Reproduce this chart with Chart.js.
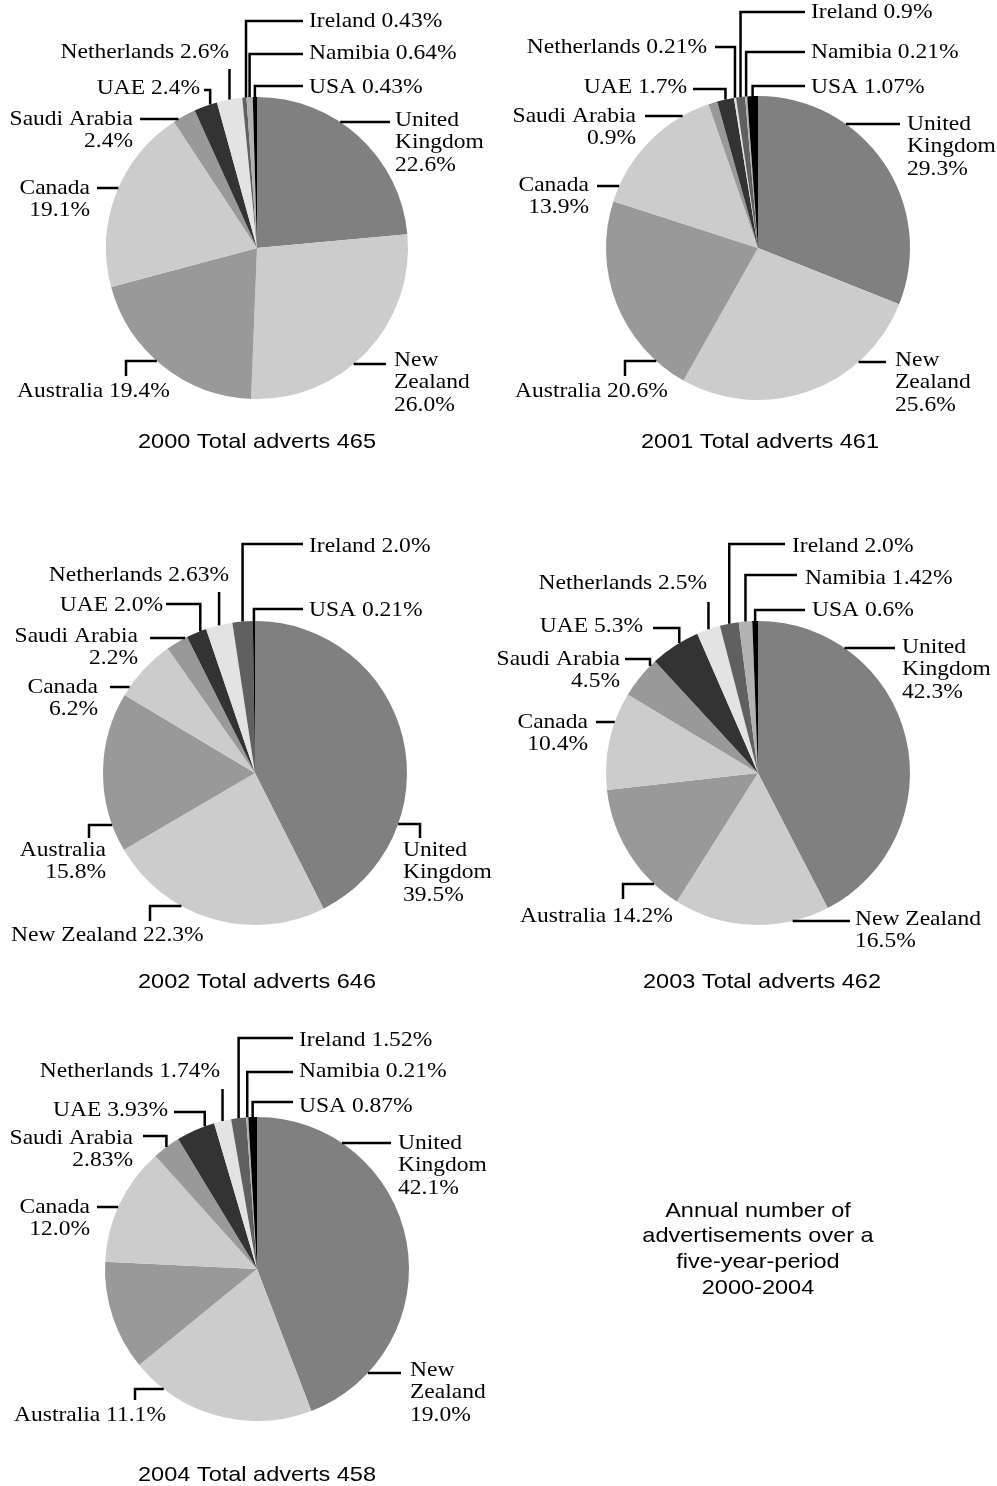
<!DOCTYPE html>
<html>
<head>
<meta charset="utf-8">
<script src="https://cdn.jsdelivr.net/npm/chart.js"></script>
<style>
  body { margin: 0; background: #fff; }
  #page { position: relative; width: 997px; height: 1486px; }
  canvas { position: absolute; }
</style>
</head>
<body>
<div id="page"></div>
<script>
const categories = ['United Kingdom', 'New Zealand', 'Australia', 'Canada', 'Saudi Arabia',
  'UAE', 'Netherlands', 'Ireland', 'Namibia', 'USA'];

// percentages as printed on the labels
const values2000 = ['22.6', '26.0', '19.4', '19.1', '2.4', '2.4', '2.6', '0.43', '0.64', '0.43'];
const values2001 = ['29.3', '25.6', '20.6', '13.9', '0.9', '1.7', '0.21', '0.9', '0.21', '1.07'];
const values2002 = ['39.5', '22.3', '15.8', '6.2', '2.2', '2.0', '2.63', '2.0', null, '0.21'];
const values2003 = ['42.3', '16.5', '14.2', '10.4', '4.5', '5.3', '2.5', '2.0', '1.42', '0.6'];
const values2004 = ['42.1', '19.0', '11.1', '12.0', '2.83', '3.93', '1.74', '1.52', '0.21', '0.87'];

const years = ['2000', '2001', '2002', '2003', '2004'];
const totals = [465, 461, 646, 462, 458];
const noteLines = ['Annual number of', 'advertisements over a', 'five-year-period', '2000-2004'];

const colours = ['#808080', '#cccccc', '#999999', '#cccccc', '#999999',
  '#333333', '#e3e3e3', '#606060', '#b2b2b2', '#000000'];

const SERIF = '21px "Liberation Serif"';
const SANS = '21px "Liberation Sans"';
const STRETCH = 1.12;

// label layout, page coords: [category, textX, textY, align, lines mode, leader]
// mode 1: "Name v%", 2: "Name" / "v%", 3: each word / "v%"
const layouts = [
  { ox: 0, oy: 0, w: 498, h: 500, cx: 257, cy: 248, r: 151, tx: 257, ty: 442, labels: [
    [0, 395, 120, 'left', 3, { t: 'h', x: 390, y: 122 }],
    [1, 394, 360, 'left', 3, { t: 'h', x: 386, y: 364 }],
    [2, 17, 391, 'left', 1, { t: 'vh', x: 126, y0: 376, y: 361 }],
    [3, 90, 188, 'right', 2, { t: 'h', x: 97, y: 188 }],
    [4, 133, 119, 'right', 2, { t: 'h', x: 140, y: 119 }],
    [5, 200, 88, 'right', 1, { t: 'hv', x: 204, y: 90, f: 0.7 }],
    [6, 229, 52, 'right', 1, { t: 'v', y: 69 }],
    [7, 309, 21, 'left', 1, { t: 'hv', x: 303, y: 21, f: 0.9 }],
    [8, 309, 53, 'left', 1, { t: 'hv', x: 303, y: 54 }],
    [9, 309, 87, 'left', 1, { t: 'hv', x: 303, y: 86 }]
  ]},
  { ox: 498, oy: 0, w: 499, h: 500, cx: 758, cy: 248, r: 152, tx: 760, ty: 442, labels: [
    [0, 907, 124, 'left', 3, { t: 'h', x: 900, y: 124 }],
    [1, 895, 360, 'left', 3, { t: 'h', x: 886, y: 362 }],
    [2, 515, 391, 'left', 1, { t: 'vh', x: 625, y0: 376, y: 361 }],
    [3, 589, 185, 'right', 2, { t: 'h', x: 597, y: 186 }],
    [4, 636, 116, 'right', 2, { t: 'h', x: 645, y: 116 }],
    [5, 687, 87, 'right', 1, { t: 'hv', x: 693, y: 89 }],
    [6, 707, 47, 'right', 1, { t: 'hv', x: 715, y: 47 }],
    [7, 811, 12, 'left', 1, { t: 'hv', x: 805, y: 12 }],
    [8, 811, 52, 'left', 1, { t: 'hv', x: 805, y: 52 }],
    [9, 811, 87, 'left', 1, { t: 'hv', x: 805, y: 86 }]
  ]},
  { ox: 0, oy: 500, w: 498, h: 500, cx: 255, cy: 773, r: 152, tx: 257, ty: 982, labels: [
    [0, 403, 850, 'left', 3, { t: 'vh', x: 420, y0: 838, y: 824 }],
    [1, 11, 935, 'left', 1, { t: 'vh', x: 150, y0: 921, y: 906 }],
    [2, 106, 850, 'right', 2, { t: 'vh', x: 89, y0: 838, y: 825 }],
    [3, 98, 687, 'right', 2, { t: 'h', x: 110, y: 687 }],
    [4, 138, 636, 'right', 2, { t: 'h', x: 150, y: 638 }],
    [5, 163, 605, 'right', 1, { t: 'hv', x: 166, y: 604, f: 0.7 }],
    [6, 229, 575, 'right', 1, { t: 'v', y: 592 }],
    [7, 309, 546, 'left', 1, { t: 'hv', x: 303, y: 544 }],
    [9, 309, 610, 'left', 1, { t: 'hv', x: 303, y: 609 }]
  ]},
  { ox: 498, oy: 500, w: 499, h: 500, cx: 758, cy: 773, r: 152, tx: 762, ty: 982, labels: [
    [0, 902, 647, 'left', 3, { t: 'h', x: 895, y: 648 }],
    [1, 855, 919, 'left', 2, { t: 'h', x: 850, y: 921 }],
    [2, 520, 916, 'left', 1, { t: 'vh', x: 623, y0: 899, y: 884 }],
    [3, 588, 722, 'right', 2, { t: 'h', x: 596, y: 722 }],
    [4, 620, 659, 'right', 2, { t: 'hv', x: 625, y: 659, f: 0.84 }],
    [5, 643, 626, 'right', 1, { t: 'hv', x: 653, y: 628, f: 0.6 }],
    [6, 707, 583, 'right', 1, { t: 'v', y: 602 }],
    [7, 792, 546, 'left', 1, { t: 'hv', x: 785, y: 544 }],
    [8, 805, 578, 'left', 1, { t: 'hv', x: 797, y: 575 }],
    [9, 812, 610, 'left', 1, { t: 'hv', x: 805, y: 610 }]
  ]},
  { ox: 0, oy: 1000, w: 997, h: 486, cx: 257, cy: 1269, r: 152, tx: 257, ty: 1475, labels: [
    [0, 398, 1143, 'left', 3, { t: 'h', x: 391, y: 1143 }],
    [1, 410, 1370, 'left', 3, { t: 'h', x: 401, y: 1373 }],
    [2, 14, 1415, 'left', 1, { t: 'vh', x: 135, y0: 1400, y: 1389 }],
    [3, 90, 1207, 'right', 2, { t: 'h', x: 97, y: 1207 }],
    [4, 133, 1138, 'right', 2, { t: 'hv', x: 143, y: 1136 }],
    [5, 168, 1110, 'right', 1, { t: 'hv', x: 174, y: 1112, f: 0.75 }],
    [6, 220, 1071, 'right', 1, { t: 'v', y: 1089 }],
    [7, 299, 1040, 'left', 1, { t: 'hv', x: 293, y: 1038 }],
    [8, 299, 1071, 'left', 1, { t: 'hv', x: 293, y: 1072 }],
    [9, 299, 1106, 'left', 1, { t: 'hv', x: 293, y: 1102 }]
  ]}
];

const allValues = [values2000, values2001, values2002, values2003, values2004];

function drawText(ctx, str, x, y, align, font) {
  ctx.save();
  ctx.translate(x, y);
  ctx.scale(STRETCH, 1);
  ctx.font = font;
  ctx.textAlign = align;
  ctx.textBaseline = 'middle';
  ctx.fillStyle = '#000';
  ctx.fillText(str, 0, 0);
  ctx.restore();
}

function labelLines(name, val, mode) {
  if (mode === 1) return [name + ' ' + val + '%'];
  if (mode === 2) return [name, val + '%'];
  return name.split(' ').concat([val + '%']);
}

const labelPlugin = {
  id: 'pieLabels',
  afterDraw(chart) {
    const L = chart.options.plugins.pieLabels;
    const vals = allValues[L.idx];
    const ctx = chart.ctx;
    const meta = chart.getDatasetMeta(0);
    ctx.save();
    ctx.strokeStyle = '#000';
    ctx.lineWidth = 2.5;
    L.labels.forEach(([i, x, y, align, mode, ld]) => {
      const arc = meta.data[i];
      const cx = arc.x, cy = arc.y, r = arc.outerRadius;
      const f = ld.f !== undefined ? ld.f : 0.5;
      const a = arc.startAngle + f * (arc.endAngle - arc.startAngle);
      const ax = cx + r * Math.cos(a);
      const edgeY = (px, up) => cy + (up ? -1 : 1) * Math.sqrt(Math.max(r * r - (px - cx) * (px - cx), 0));
      const edgeX = (py, right) => cx + (right ? 1 : -1) * Math.sqrt(Math.max(r * r - (py - cy) * (py - cy), 0));
      const pts = [];
      if (ld.t === 'h') {
        const ly = ld.y - L.oy, lx = ld.x - L.ox;
        pts.push([lx, ly], [edgeX(ly, lx > cx), ly]);
      } else if (ld.t === 'hv') {
        const ly = ld.y - L.oy, lx = ld.x - L.ox;
        pts.push([lx, ly], [ax, ly], [ax, edgeY(ax, ly < cy)]);
      } else if (ld.t === 'v') {
        const ly = ld.y - L.oy;
        pts.push([ax, ly], [ax, edgeY(ax, ly < cy)]);
      } else if (ld.t === 'vh') {
        const lx = ld.x - L.ox, ly = ld.y - L.oy;
        pts.push([lx, ld.y0 - L.oy], [lx, ly], [edgeX(ly, lx > cx), ly]);
      }
      ctx.beginPath();
      pts.forEach((p, k) => k ? ctx.lineTo(p[0], p[1]) : ctx.moveTo(p[0], p[1]));
      ctx.stroke();
      labelLines(categories[i], vals[i], mode).forEach((s, k) => {
        drawText(ctx, s, x - L.ox, y - L.oy + k * 22.5, align, SERIF);
      });
    });
    drawText(ctx, years[L.idx] + ' Total adverts ' + totals[L.idx], L.tx - L.ox, L.ty - L.oy, 'center', SANS);
    if (L.idx === 4) {
      noteLines.forEach((s, k) => drawText(ctx, s, 758 - L.ox, 1211 - L.oy + k * 25.7, 'center', SANS));
    }
    ctx.restore();
  }
};

function build() {
  const page = document.getElementById('page');
  layouts.forEach((L, idx) => {
    const c = document.createElement('canvas');
    c.width = L.w; c.height = L.h;
    c.style.left = L.ox + 'px'; c.style.top = L.oy + 'px';
    page.appendChild(c);
    const px = L.cx - L.ox, py = L.cy - L.oy;
    new Chart(c.getContext('2d'), {
      type: 'pie',
      data: {
        labels: categories,
        datasets: [{
          data: allValues[idx].map(v => v === null ? null : Number(v)),
          backgroundColor: colours,
          borderWidth: 0
        }]
      },
      options: {
        responsive: false,
        animation: false,
        layout: { padding: { left: px - L.r, right: L.w - px - L.r, top: py - L.r, bottom: L.h - py - L.r } },
        plugins: {
          legend: { display: false },
          tooltip: { enabled: false },
          pieLabels: Object.assign({ idx: idx }, L)
        }
      },
      plugins: [labelPlugin]
    });
  });
}

Promise.all([document.fonts.load(SERIF), document.fonts.load(SANS)]).then(build, build);
</script>
</body>
</html>
